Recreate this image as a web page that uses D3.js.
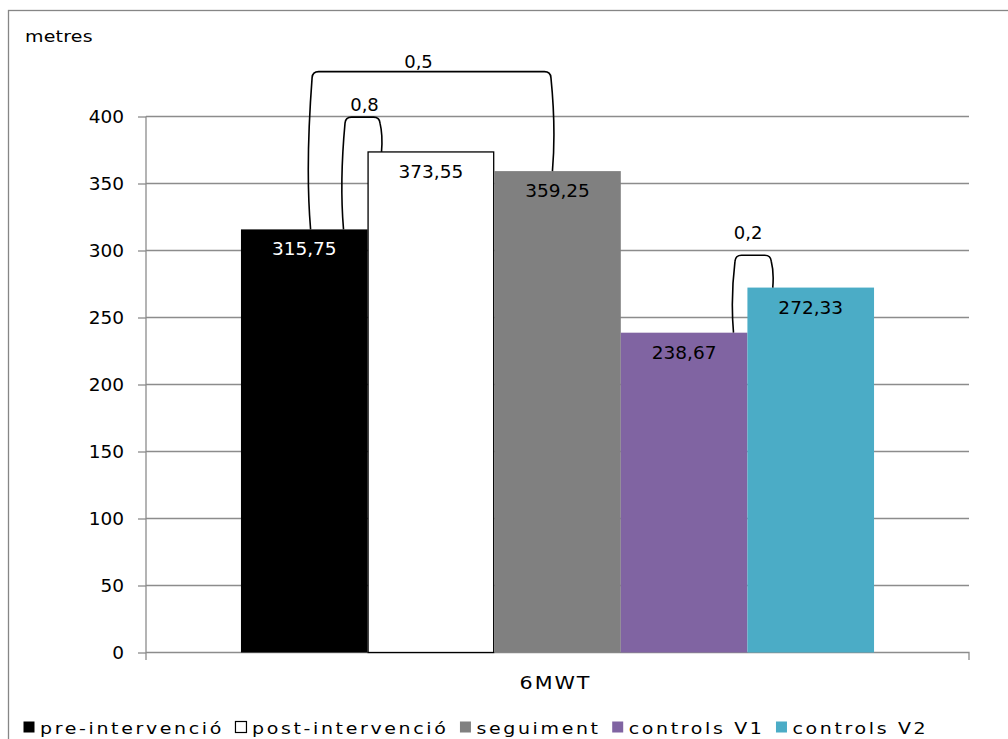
<!DOCTYPE html>
<html>
<head>
<meta charset="utf-8">
<script src="https://cdn.jsdelivr.net/npm/d3@7"></script>
<style>
  html, body { margin: 0; padding: 0; background: #fff; }
  svg { display: block; }
  .num { font-family: "DejaVu Sans", Verdana, sans-serif; }
  .wide { font-family: "DejaVu Sans", sans-serif; }
</style>
</head>
<body>
<svg id="chart" width="1008" height="739"></svg>
<script>
// 6MWT distances (metres) per group
const categories = ["6MWT"];
const seriesNames = ["pre-intervenció", "post-intervenció", "seguiment", "controls V1", "controls V2"];
const seriesValues = [315.75, 373.55, 359.25, 238.67, 272.33];
const valueLabels = ["315,75", "373,55", "359,25", "238,67", "272,33"];
const seriesColors = ["#000000", "#ffffff", "#808080", "#8064a2", "#4bacc6"];
const labelColors = ["#ffffff", "#000000", "#000000", "#000000", "#000000"];
const yTicks = [0, 50, 100, 150, 200, 250, 300, 350, 400];

// p-value comparisons between groups
const compFrom = ["pre-intervenció", "pre-intervenció", "controls V1"];
const compTo = ["seguiment", "post-intervenció", "controls V2"];
const compPValues = ["0,5", "0,8", "0,2"];
const compTop = [433.5, 399.5, 296.5];

const svg = d3.select("#chart");

// chart frame (continues past the right and bottom edges)
svg.append("rect")
  .attr("x", 8.5).attr("y", 10.5)
  .attr("width", 1100).attr("height", 800)
  .attr("fill", "#fff").attr("stroke", "#868686").attr("stroke-width", 1.3);

const plotLeft = 146, plotRight = 969, plotTop = 116.5, plotBottom = 652.5;

const y = d3.scaleLinear().domain([0, 400]).range([plotBottom, plotTop]);
const x0 = d3.scaleBand().domain(categories).range([plotLeft, plotRight]).paddingOuter(0.15).paddingInner(0);
const x1 = d3.scaleBand().domain(seriesNames).range([0, x0.bandwidth()]);

// wide label text: DejaVu Sans stretched horizontally
function wideText(parent, x, yPos, str, size, spacing, anchor) {
  const g = parent.append("g").attr("transform", `translate(${x},${yPos}) scale(1.15,1)`);
  return g.append("text")
    .attr("class", "wide")
    .attr("font-size", size)
    .attr("letter-spacing", spacing)
    .attr("text-anchor", anchor || "start")
    .attr("fill", "#000")
    .text(str);
}

// gridlines
svg.append("g")
  .selectAll("line")
  .data(yTicks.filter(t => t > 0))
  .join("line")
  .attr("x1", plotLeft).attr("x2", plotRight)
  .attr("y1", d => y(d)).attr("y2", d => y(d))
  .attr("stroke", "#8c8c8c").attr("stroke-width", 1.3);

// y axis
const yAxis = d3.axisLeft(y).tickValues(yTicks).tickSize(8).tickPadding(14).tickFormat(d3.format("d"));
const gy = svg.append("g").attr("transform", `translate(${plotLeft},0)`).call(yAxis);
gy.select(".domain").attr("d", `M0,${plotTop}V${plotBottom + 7.5}`).attr("stroke", "#8c8c8c").attr("stroke-width", 1.3);
gy.selectAll(".tick line").attr("stroke", "#8c8c8c").attr("stroke-width", 1.3);
gy.selectAll(".tick text").attr("class", "num").attr("font-size", 18.5).attr("fill", "#000");

// x axis
const xAxis = d3.axisBottom(x0).tickSize(0).tickPadding(0).tickFormat(() => "");
const gx = svg.append("g").attr("transform", `translate(0,${plotBottom})`).call(xAxis);
gx.select(".domain").remove();
gx.append("path")
  .attr("d", `M${plotLeft},0H${plotRight}V7.5`)
  .attr("fill", "none").attr("stroke", "#8c8c8c").attr("stroke-width", 1.3);
categories.forEach(c => {
  wideText(svg, x0(c) + x0.bandwidth() / 2 - 2, plotBottom + 36, c, 18, 1.7, "middle");
});

// y axis title
wideText(svg, 25, 42, "metres", 16.5, 0.2);

// bars
const bars = seriesNames.map((name, i) => ({
  cat: categories[0], name, value: seriesValues[i], label: valueLabels[i],
  color: seriesColors[i], labelColor: labelColors[i]
}));

const gBars = svg.append("g");
gBars.selectAll("rect")
  .data(bars)
  .join("rect")
  .attr("x", d => x0(d.cat) + x1(d.name) + (d.name === "post-intervenció" ? 0.5 : 0))
  .attr("y", d => y(d.value))
  .attr("width", d => x1.bandwidth() - (d.name === "post-intervenció" ? 1 : 0))
  .attr("height", d => y(0) - y(d.value))
  .attr("fill", d => d.color)
  .attr("stroke", d => d.name === "post-intervenció" ? "#000" : "none")
  .attr("stroke-width", 1.3);

gBars.selectAll("text")
  .data(bars)
  .join("text")
  .attr("class", "num")
  .attr("x", d => x0(d.cat) + x1(d.name) + x1.bandwidth() / 2)
  .attr("y", d => y(d.value) + 26)
  .attr("text-anchor", "middle")
  .attr("font-size", 18.5)
  .attr("fill", d => d.labelColor)
  .text(d => d.label);

// comparison brackets
const legFrac = { "0,5": [0.55, 0.46], "0,8": [0.81, 0.11], "0,2": [0.89, 0.2] };
const labelShift = { "0,5": [-13, -4], "0,8": [2, -6], "0,2": [-5, -16] };
const valueOf = name => seriesValues[seriesNames.indexOf(name)];

compPValues.forEach((p, i) => {
  const a = compFrom[i], b = compTo[i];
  const xa = x0(categories[0]) + x1(a) + x1.bandwidth() * legFrac[p][0];
  const xb = x0(categories[0]) + x1(b) + x1.bandwidth() * legFrac[p][1];
  const ya = y(valueOf(a)), yb = y(valueOf(b)), yt = y(compTop[i]);
  const r = 6;
  const La = ya - (yt + r), Lb = yb - (yt + r);
  const ka = Math.min(5, La * 0.03), kb = Math.min(5, Lb * 0.03);
  const path =
    `M${xa},${ya}` +
    `C${xa - ka},${ya - La * 0.35} ${xa - ka * 0.3},${yt + r + La * 0.25} ${xa + 1.5},${yt + r}` +
    `Q${xa + 2},${yt} ${xa + 2 + r},${yt}` +
    `L${xb - 2 - r},${yt}` +
    `Q${xb - 2},${yt} ${xb - 1.5},${yt + r}` +
    `C${xb + kb * 0.3},${yt + r + Lb * 0.25} ${xb + kb},${yb - Lb * 0.35} ${xb},${yb}`;
  svg.append("path").attr("d", path)
    .attr("fill", "none").attr("stroke", "#000").attr("stroke-width", 1.6);
  svg.append("text").attr("class", "num")
    .attr("x", (xa + xb) / 2 + labelShift[p][0])
    .attr("y", yt + labelShift[p][1])
    .attr("text-anchor", "middle")
    .attr("font-size", 18)
    .attr("fill", "#000")
    .text(p);
});

// legend
const legend = svg.append("g").attr("transform", "translate(23,0)");
let lx = 0;
seriesNames.forEach((name, i) => {
  legend.append("rect")
    .attr("x", lx + 0.5).attr("y", 721.5)
    .attr("width", 11).attr("height", 11)
    .attr("fill", seriesColors[i])
    .attr("stroke", name === "post-intervenció" ? "#000" : "none")
    .attr("stroke-width", 1.2);
  const t = wideText(legend, lx + 17, 734, name, 16.5, 2.3);
  lx += 17 + t.node().getComputedTextLength() * 1.15 + 11;
});
</script>
</body>
</html>
